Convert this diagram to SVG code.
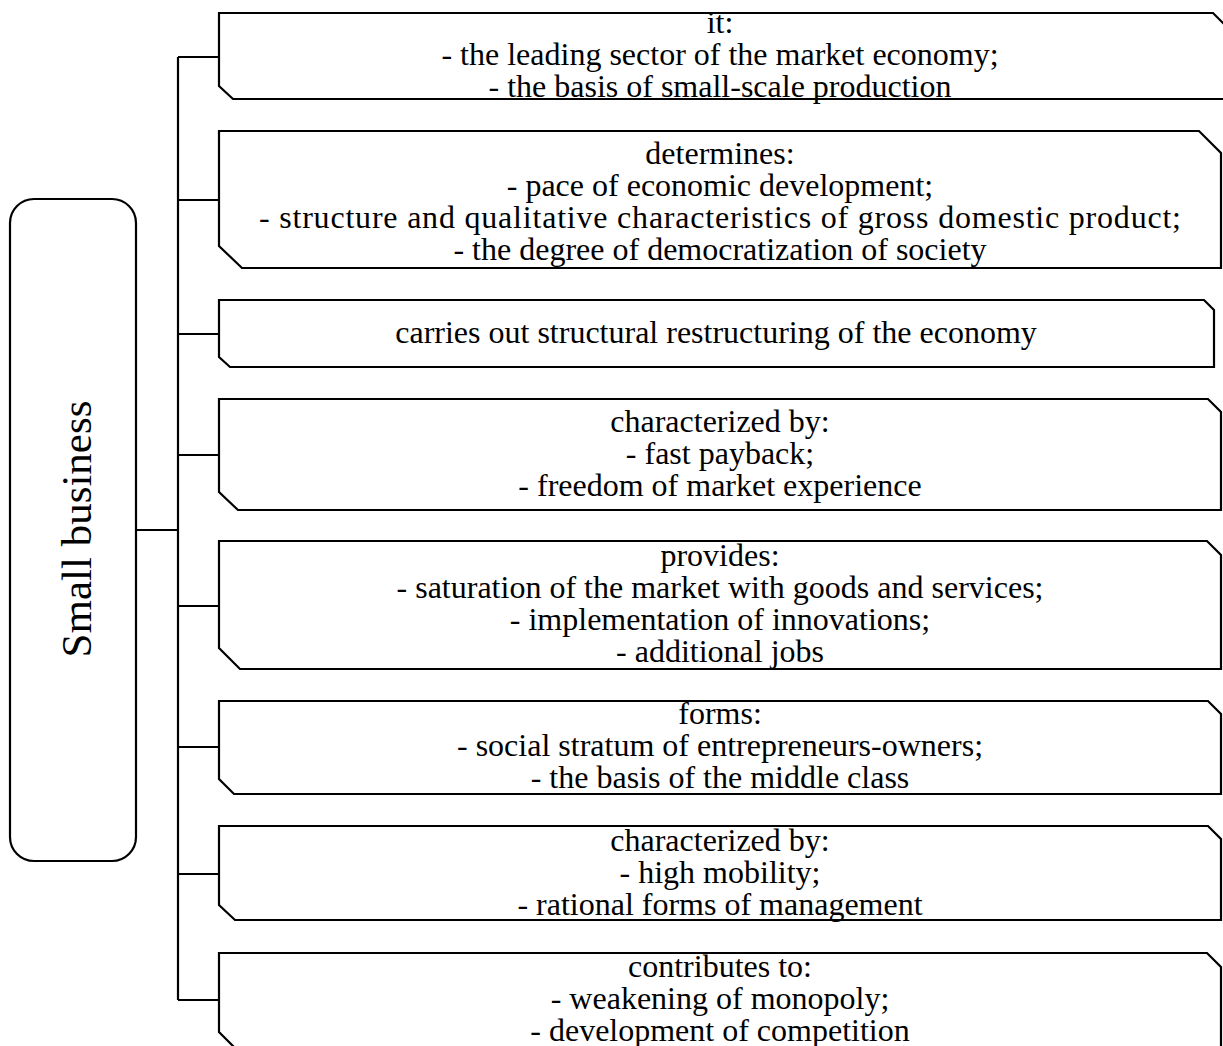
<svg xmlns="http://www.w3.org/2000/svg" width="1223" height="1046" viewBox="0 0 1223 1046">
  <style>
    .box { fill: #ffffff; stroke: #000000; stroke-width: 2.2; stroke-linejoin: miter; }
    .wire { fill: none; stroke: #000000; stroke-width: 2.2; }
    .t { font-family: "Liberation Serif", "Times New Roman", serif; font-size: 32px; fill: #000000; text-anchor: middle; }
    .title { font-family: "Liberation Serif", "Times New Roman", serif; font-size: 43px; fill: #000000; text-anchor: middle; }
  </style>
  <rect width="1223" height="1046" fill="#ffffff"/>

  <!-- trunk and branches -->
  <g id="connectors">
    <path class="wire" d="M178,57 V1000"/>
    <path class="wire" d="M136,530 H178"/>
    <path class="wire" d="M178,57 H219"/>
    <path class="wire" d="M178,200 H219"/>
    <path class="wire" d="M178,334 H219"/>
    <path class="wire" d="M178,455 H219"/>
    <path class="wire" d="M178,606 H219"/>
    <path class="wire" d="M178,747 H219"/>
    <path class="wire" d="M178,874 H219"/>
    <path class="wire" d="M178,1000 H219"/>
  </g>

  <!-- root node -->
  <g id="small-business">
    <rect class="box" x="10" y="199" width="126" height="662" rx="24" ry="24"/>
    <text class="title" transform="translate(91,529) rotate(-90)">Small business</text>
  </g>

  <g id="node-it">
    <path class="box" d="M219,13 H1213 L1225,25 V99 H233 L219,86 Z"/>
    <text class="t" x="720" y="33">it:</text>
    <text class="t" x="720" y="65">- the leading sector of the market economy;</text>
    <text class="t" x="720" y="97">- the basis of small-scale production</text>
  </g>

  <g id="node-determines">
    <path class="box" d="M219,131 H1199 L1221,153 V268 H242 L219,246 Z"/>
    <text class="t" x="720" y="164">determines:</text>
    <text class="t" x="720" y="196">- pace of economic development;</text>
    <text class="t" x="720" y="228" textLength="922" lengthAdjust="spacing">- structure and qualitative characteristics of gross domestic product;</text>
    <text class="t" x="720" y="260">- the degree of democratization of society</text>
  </g>

  <g id="node-restructuring">
    <path class="box" d="M219,300 H1204 L1214,310 V367 H230 L219,357 Z"/>
    <text class="t" x="716" y="343">carries out structural restructuring of the economy</text>
  </g>

  <g id="node-characterized-1">
    <path class="box" d="M219,399 H1208 L1221,412 V510 H238 L219,492 Z"/>
    <text class="t" x="720" y="432">characterized by:</text>
    <text class="t" x="720" y="464">- fast payback;</text>
    <text class="t" x="720" y="496">- freedom of market experience</text>
  </g>

  <g id="node-provides">
    <path class="box" d="M219,541 H1207 L1221,555 V669 H240 L219,648 Z"/>
    <text class="t" x="720" y="566">provides:</text>
    <text class="t" x="720" y="598">- saturation of the market with goods and services;</text>
    <text class="t" x="720" y="630">- implementation of innovations;</text>
    <text class="t" x="720" y="662">- additional jobs</text>
  </g>

  <g id="node-forms">
    <path class="box" d="M219,701 H1208 L1221,714 V794 H234 L219,779 Z"/>
    <text class="t" x="720" y="724">forms:</text>
    <text class="t" x="720" y="756">- social stratum of entrepreneurs-owners;</text>
    <text class="t" x="720" y="788">- the basis of the middle class</text>
  </g>

  <g id="node-characterized-2">
    <path class="box" d="M219,826 H1208 L1221,839 V920 H235 L219,905 Z"/>
    <text class="t" x="720" y="851">characterized by:</text>
    <text class="t" x="720" y="883">- high mobility;</text>
    <text class="t" x="720" y="915">- rational forms of management</text>
  </g>

  <g id="node-contributes">
    <path class="box" d="M219,953 H1207 L1221,967 V1060 H247 L219,1032 Z"/>
    <text class="t" x="720" y="977">contributes to:</text>
    <text class="t" x="720" y="1009">- weakening of monopoly;</text>
    <text class="t" x="720" y="1041">- development of competition</text>
  </g>
</svg>
